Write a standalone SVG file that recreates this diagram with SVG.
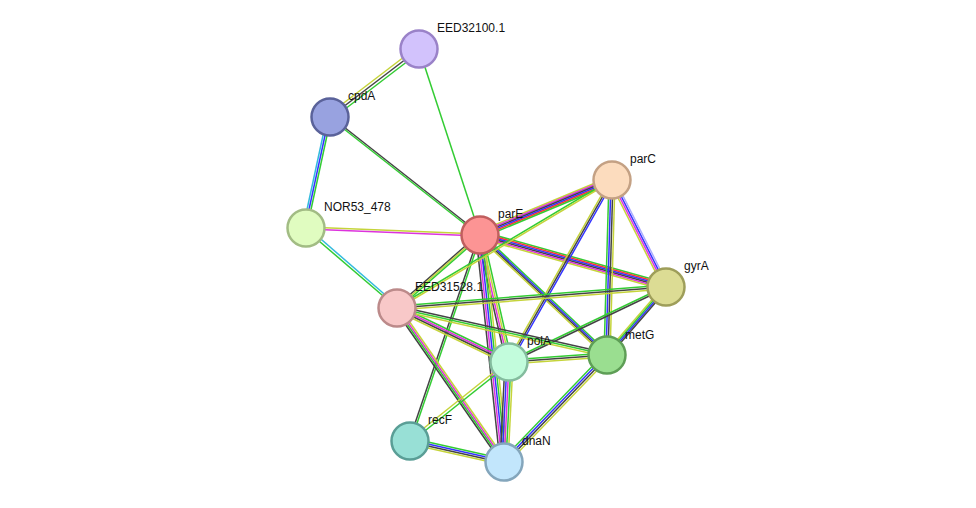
<svg xmlns="http://www.w3.org/2000/svg" width="976" height="508" viewBox="0 0 976 508">
<style>
line{stroke-width:1.5}
.g{stroke:#3c3}.k{stroke:#444}.y{stroke:#c5d43a}.m{stroke:#d3d}.b{stroke:#33f}.r{stroke:#f33}.c{stroke:#3bd}.l{stroke:#aaf}
circle{stroke-width:2.5}
text{font-family:"Liberation Sans",Arial,sans-serif;font-size:12px;fill:#111}
</style>
<rect width="976" height="508" fill="#fff"/>
<g id="connectors">
<line class="y" x1="417" y1="47" x2="328" y2="115"/><line class="k" x1="419" y1="49" x2="330" y2="117"/><line class="g" x1="421" y1="51" x2="332" y2="119"/>
<line class="g" x1="419" y1="49" x2="480" y2="235"/>
<line class="k" x1="330" y1="116" x2="480" y2="234"/><line class="g" x1="330" y1="118" x2="480" y2="236"/>
<line class="c" x1="327" y1="117" x2="303" y2="228"/><line class="b" x1="329" y1="117" x2="305" y2="228"/><line class="g" x1="331" y1="117" x2="307" y2="228"/>
<line class="y" x1="306" y1="227" x2="480" y2="234"/><line class="m" x1="306" y1="229" x2="480" y2="236"/>
<line class="g" x1="305" y1="229" x2="396" y2="307"/><line class="c" x1="307" y1="227" x2="398" y2="306"/>
<line class="y" x1="480" y1="231" x2="612" y2="176"/><line class="m" x1="480" y1="232.5" x2="612" y2="177.5"/><line class="k" x1="480" y1="234" x2="612" y2="179"/><line class="b" x1="480" y1="235.5" x2="612" y2="180.5"/><line class="r" x1="480" y1="237" x2="612" y2="182"/><line class="g" x1="480" y1="238.5" x2="612" y2="183.5"/>
<line class="g" x1="480" y1="231" x2="666" y2="283"/><line class="r" x1="480" y1="232.5" x2="666" y2="284.5"/><line class="b" x1="480" y1="234" x2="666" y2="286"/><line class="k" x1="480" y1="235.5" x2="666" y2="287.5"/><line class="m" x1="480" y1="237" x2="666" y2="289"/><line class="y" x1="480" y1="238.5" x2="666" y2="290.5"/>
<line class="k" x1="480" y1="233" x2="397" y2="306"/><line class="y" x1="480" y1="235" x2="397" y2="308"/><line class="g" x1="480" y1="237" x2="397" y2="310"/>
<line class="k" x1="477" y1="235" x2="506" y2="362"/><line class="m" x1="479" y1="235" x2="508" y2="362"/><line class="y" x1="481" y1="235" x2="510" y2="362"/><line class="g" x1="483" y1="235" x2="512" y2="362"/>
<line class="g" x1="480" y1="232" x2="607" y2="352"/><line class="b" x1="480" y1="234" x2="607" y2="354"/><line class="k" x1="480" y1="236" x2="607" y2="356"/><line class="y" x1="480" y1="238" x2="607" y2="358"/>
<line class="k" x1="476" y1="235" x2="500" y2="462"/><line class="m" x1="478" y1="235" x2="502" y2="462"/><line class="b" x1="480" y1="235" x2="504" y2="462"/><line class="g" x1="482" y1="235" x2="506" y2="462"/><line class="y" x1="484" y1="235" x2="508" y2="462"/>
<line class="k" x1="479" y1="235" x2="409" y2="441"/><line class="g" x1="481" y1="235" x2="411" y2="441"/>
<line class="y" x1="609" y1="180" x2="663" y2="287"/><line class="m" x1="611" y1="180" x2="665" y2="287"/><line class="b" x1="613" y1="180" x2="667" y2="287"/><line class="l" x1="615" y1="180" x2="669" y2="287"/>
<line class="g" x1="609" y1="180" x2="604" y2="355"/><line class="b" x1="611" y1="180" x2="606" y2="355"/><line class="k" x1="613" y1="180" x2="608" y2="355"/><line class="y" x1="615" y1="180" x2="610" y2="355"/>
<line class="y" x1="610" y1="180" x2="507" y2="362"/><line class="k" x1="612" y1="180" x2="509" y2="362"/><line class="b" x1="614" y1="180" x2="511" y2="362"/>
<line class="g" x1="612" y1="179" x2="397" y2="307"/><line class="y" x1="612" y1="181" x2="397" y2="309"/>
<line class="g" x1="666" y1="285" x2="397" y2="306"/><line class="k" x1="666" y1="287" x2="397" y2="308"/><line class="y" x1="666" y1="289" x2="397" y2="310"/>
<line class="g" x1="666" y1="286" x2="509" y2="361"/><line class="k" x1="666" y1="288" x2="509" y2="363"/>
<line class="y" x1="663" y1="287" x2="604" y2="355"/><line class="g" x1="665" y1="287" x2="606" y2="355"/><line class="b" x1="667" y1="287" x2="608" y2="355"/><line class="k" x1="669" y1="287" x2="610" y2="355"/>
<line class="g" x1="397" y1="305" x2="509" y2="359"/><line class="m" x1="397" y1="307" x2="509" y2="361"/><line class="k" x1="397" y1="309" x2="509" y2="363"/><line class="y" x1="397" y1="311" x2="509" y2="365"/>
<line class="k" x1="397" y1="306" x2="607" y2="353"/><line class="g" x1="397" y1="308" x2="607" y2="355"/><line class="y" x1="397" y1="310" x2="607" y2="357"/>
<line class="k" x1="394" y1="308" x2="501" y2="462"/><line class="g" x1="396" y1="308" x2="503" y2="462"/><line class="m" x1="398" y1="308" x2="505" y2="462"/><line class="y" x1="400" y1="308" x2="507" y2="462"/>
<line class="g" x1="509" y1="360" x2="607" y2="353"/><line class="k" x1="509" y1="362" x2="607" y2="355"/><line class="y" x1="509" y1="364" x2="607" y2="357"/>
<line class="k" x1="505" y1="362" x2="500" y2="462"/><line class="b" x1="507" y1="362" x2="502" y2="462"/><line class="m" x1="509" y1="362" x2="504" y2="462"/><line class="g" x1="511" y1="362" x2="506" y2="462"/><line class="y" x1="513" y1="362" x2="508" y2="462"/>
<line class="y" x1="508" y1="361" x2="409" y2="440"/><line class="g" x1="510" y1="363" x2="411" y2="442"/>
<line class="g" x1="604" y1="354" x2="501" y2="461"/><line class="b" x1="606" y1="355" x2="503" y2="462"/><line class="k" x1="608" y1="356" x2="505" y2="463"/><line class="y" x1="610" y1="357" x2="507" y2="464"/>
<line class="g" x1="410" y1="438" x2="504" y2="459"/><line class="b" x1="410" y1="440" x2="504" y2="461"/><line class="k" x1="410" y1="442" x2="504" y2="463"/><line class="y" x1="410" y1="444" x2="504" y2="465"/>
</g>
<g id="EED32100.1"><circle cx="419" cy="49" r="18.5" fill="#d2c2fc" stroke="#9a82c8"/><text x="437" y="32">EED32100.1</text></g>
<g id="cpdA"><circle cx="330" cy="117" r="18.5" fill="#98a2e0" stroke="#5a629a"/><text x="348" y="100">cpdA</text></g>
<g id="parC"><circle cx="612" cy="180" r="18.5" fill="#fcdcbe" stroke="#c4a184"/><text x="630" y="163">parC</text></g>
<g id="NOR53_478"><circle cx="306" cy="228" r="18.5" fill="#e0fcc0" stroke="#a2bc84"/><text x="324" y="211">NOR53_478</text></g>
<g id="parE"><circle cx="480" cy="235" r="18.5" fill="#fc9494" stroke="#c05e5e"/><text x="498" y="218">parE</text></g>
<g id="gyrA"><circle cx="666" cy="287" r="18.5" fill="#dcdc94" stroke="#9e9e5a"/><text x="684" y="270">gyrA</text></g>
<g id="EED31528.1"><circle cx="397" cy="308" r="18.5" fill="#f8c8c8" stroke="#bc8a8a"/><text x="415" y="291">EED31528.1</text></g>
<g id="metG"><circle cx="607" cy="355" r="18.5" fill="#9ade90" stroke="#5e9e56"/><text x="625" y="339">metG</text></g>
<g id="polA"><circle cx="509" cy="362" r="18.5" fill="#c2fcdc" stroke="#84bc9e"/><text x="527" y="345">polA</text></g>
<g id="recF"><circle cx="410" cy="441" r="18.5" fill="#98e0d6" stroke="#5a9e96"/><text x="428" y="424">recF</text></g>
<g id="dnaN"><circle cx="504" cy="462" r="18.5" fill="#c2e6fc" stroke="#84a6bc"/><text x="522" y="445">dnaN</text></g>
</svg>
